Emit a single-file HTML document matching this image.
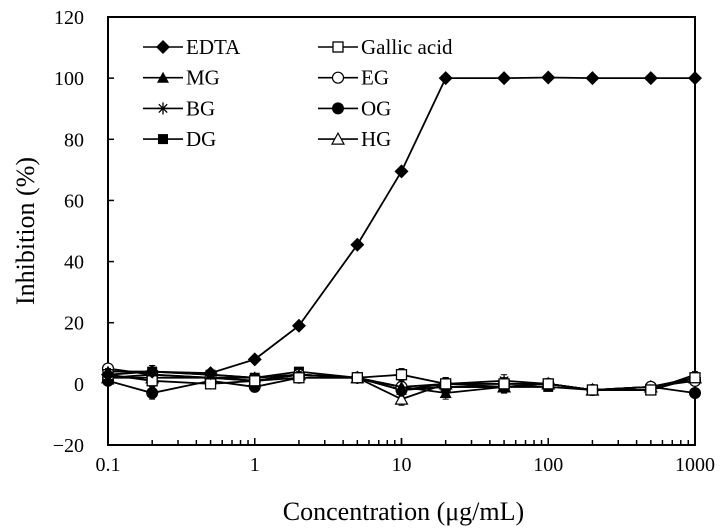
<!DOCTYPE html>
<html><head><meta charset="utf-8"><style>
html,body{margin:0;padding:0;background:#fff;}
svg{display:block;font-family:"Liberation Serif",serif;}
</style></head><body>
<svg id="chart" width="726" height="530"></svg>
<script>
const xValues=[0.1,0.2,0.5,1,2,5,10,20,50,100,200,500,1000];
const edta=[3,4,3.5,8,19,45.5,69.5,100,100,100.2,100,100,100];
const gallic=[3,1,0,1,2,2,3,0,0,0,-2,-2,2];
const mg=[4,4,3,2,3,2,-1,-3,-1,0,-2,-2,3];
const eg=[5,3,2,1,3,2,-1,0,0,0,-2,-1,1];
const bg=[2,3,2,2,3,2,-2,0,1,0,-2,-1,2];
const og=[1,-3,1,-1,2,2,-2,-1,-1,0,-2,-1,-3];
const dg=[4,4,3,2,4,2,-2,-1,-1,-1,-2,-2,2];
const hg=[2,2,2,1,3,2,-5,0,-1,0,-2,-1,2];
const errVals=[1,2,1,1,1,1,2,2,2,1,1,1,1];
const yTicks=[-20,0,20,40,60,80,100,120];
const xTicks=[0.1,1,10,100,1000];
const xTickLabels=["0.1","1","10","100","1000"];
const seriesNames=["EDTA","Gallic acid","MG","EG","BG","OG","DG","HG"];

const L=108,R=695,T=17,B=445;
const ns="http://www.w3.org/2000/svg";
const svg=document.getElementById('chart');
function xs(v){return L+(Math.log10(v)+1)/4*(R-L);}
function ys(v){return B-(v+20)/140*(B-T);}
function el(tag,attrs,parent){const e=document.createElementNS(ns,tag);for(const k in attrs)e.setAttribute(k,attrs[k]);(parent||svg).appendChild(e);return e;}

function marker(type,x,y,g){
  const s=6;
  if(type==="diamond")return el('polygon',{points:`${x},${y-s-1} ${x+s+1},${y} ${x},${y+s+1} ${x-s-1},${y}`,fill:'#000'},g);
  if(type==="square")return el('rect',{x:x-s+1,y:y-s+1,width:2*s-2,height:2*s-2,fill:'#fff',stroke:'#000','stroke-width':1.3},g);
  if(type==="fsquare")return el('rect',{x:x-s+1,y:y-s+1,width:2*s-2,height:2*s-2,fill:'#000'},g);
  if(type==="tri")return el('polygon',{points:`${x},${y-s} ${x+s},${y+s-1} ${x-s},${y+s-1}`,fill:'#000'},g);
  if(type==="otri")return el('polygon',{points:`${x},${y-s} ${x+s},${y+s-1} ${x-s},${y+s-1}`,fill:'#fff',stroke:'#000','stroke-width':1.2},g);
  if(type==="circle")return el('circle',{cx:x,cy:y,r:s,fill:'#000'},g);
  if(type==="ocircle")return el('circle',{cx:x,cy:y,r:s-0.5,fill:'#fff',stroke:'#000','stroke-width':1.2},g);
  if(type==="star"){const gg=el('g',{stroke:'#000','stroke-width':1.3},g);
    el('line',{x1:x-s,y1:y,x2:x+s,y2:y},gg);el('line',{x1:x,y1:y-s,x2:x,y2:y+s},gg);
    el('line',{x1:x-s*0.7,y1:y-s*0.7,x2:x+s*0.7,y2:y+s*0.7},gg);el('line',{x1:x-s*0.7,y1:y+s*0.7,x2:x+s*0.7,y2:y-s*0.7},gg);return gg;}
}

const frame=el('rect',{x:L,y:T,width:R-L,height:B-T,fill:'none',stroke:'#000','stroke-width':2});


yTicks.forEach(v=>{
  const t=el('line',{x1:L,y1:ys(v),x2:L+6,y2:ys(v),stroke:'#000','stroke-width':1.5});
  
  const lab=el('text',{x:L-24,y:ys(v)+7,'font-size':20,'text-anchor':'end'});
  lab.textContent=v<0?'\u221220':String(v);
  
});
for(let d=-1;d<3;d++){for(let m=1;m<=10;m++){const v=m*Math.pow(10,d);const x=xs(v);
  const tk=el('line',{x1:x,y1:B,x2:x,y2:B-(m===1||m===10?7:5),stroke:'#000','stroke-width':1.5});
  }}
xTicks.forEach((v,i)=>{
  const lab=el('text',{x:xs(v),y:B+26,'font-size':20,'text-anchor':'middle'});
  lab.textContent=xTickLabels[i];
  
});
const xt=el('text',{x:(L+R)/2+2,y:520,'font-size':26,'text-anchor':'middle'});
xt.textContent='Concentration (\u03bcg/mL)';

const yt=el('text',{x:0,y:0,'font-size':26,'text-anchor':'middle',transform:`translate(34,${(T+B)/2}) rotate(-90)`});
yt.textContent='Inhibition (%)';


const series=[
 {name:'edta',data:edta,m:'diamond'},
 {name:'gallic-acid',data:gallic,m:'square'},
 {name:'mg',data:mg,m:'tri'},
 {name:'eg',data:eg,m:'ocircle'},
 {name:'bg',data:bg,m:'star'},
 {name:'og',data:og,m:'circle'},
 {name:'dg',data:dg,m:'fsquare'},
 {name:'hg',data:hg,m:'otri'}
];
series.slice().reverse().forEach(s=>{
  const g=el('g',{});
  
  const pts=s.data.map((v,i)=>xs(xValues[i])+','+ys(v)).join(' ');
  el('polyline',{points:pts,fill:'none',stroke:'#000','stroke-width':1.8},g);
  if(s.name!=='edta'){s.data.forEach((v,i)=>{const x=xs(xValues[i]);const e=errVals[i];
    el('line',{x1:x,y1:ys(v-e),x2:x,y2:ys(v+e),stroke:'#000','stroke-width':1},g);
    el('line',{x1:x-3,y1:ys(v+e),x2:x+3,y2:ys(v+e),stroke:'#000','stroke-width':1},g);
    el('line',{x1:x-3,y1:ys(v-e),x2:x+3,y2:ys(v-e),stroke:'#000','stroke-width':1},g);});}
  s.data.forEach((v,i)=>{const mk=marker(s.m,xs(xValues[i]),ys(v),g);
    });
});

const lg=el('g',{});

const legTypes=['diamond','square','tri','ocircle','star','circle','fsquare','otri'];
seriesNames.forEach((n,i)=>{
  const col=i%2,row=Math.floor(i/2);
  const lx=col===0?143:318, ly=47+row*30.7;
  const e=el('g',{},lg);
  
  el('line',{x1:lx,y1:ly,x2:lx+40,y2:ly,stroke:'#000','stroke-width':1.6},e);
  marker(legTypes[i],lx+20,ly,e);
  const t=el('text',{x:lx+43,y:ly+7,'font-size':21},e);t.textContent=n;
});
</script>
</body></html>
